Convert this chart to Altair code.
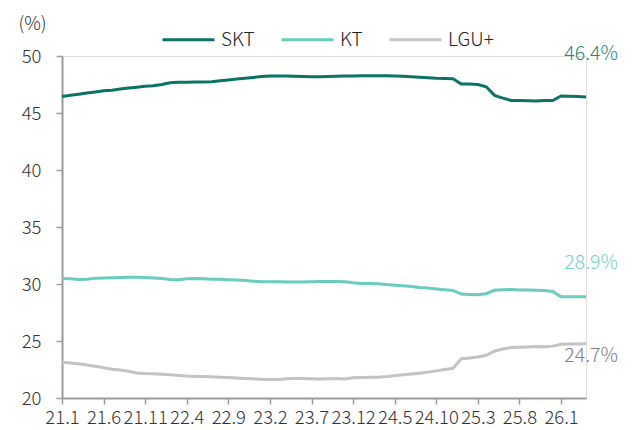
import altair as alt
import pandas as pd

# Month categories 21.1 .. 26.4
months = [f"{yy}.{mm}" for yy in range(21, 27) for mm in range(1, 13)][:64]
tick_labels = months[::5]

skt = [46.45, 46.55, 46.65, 46.75, 46.85, 46.95, 47.0, 47.1, 47.2, 47.25, 47.35, 47.4,
       47.5, 47.65, 47.7, 47.7, 47.72, 47.73, 47.75, 47.82, 47.9, 47.98, 48.05, 48.12,
       48.2, 48.25, 48.25, 48.24, 48.22, 48.2, 48.18, 48.17, 48.2, 48.22, 48.24, 48.25,
       48.27, 48.27, 48.27, 48.26, 48.25, 48.22, 48.18, 48.14, 48.1, 48.05, 48.02, 48.0,
       47.55, 47.55, 47.5, 47.3, 46.55, 46.3, 46.1, 46.1, 46.08, 46.05, 46.1, 46.1,
       46.5, 46.48, 46.45, 46.4]
kt = [30.48, 30.45, 30.4, 30.42, 30.5, 30.52, 30.55, 30.57, 30.6, 30.6, 30.58, 30.53,
      30.48, 30.4, 30.38, 30.45, 30.48, 30.45, 30.42, 30.42, 30.38, 30.35, 30.3, 30.25,
      30.2, 30.2, 30.2, 30.18, 30.18, 30.18, 30.2, 30.22, 30.22, 30.22, 30.2, 30.1,
      30.05, 30.05, 30.03, 29.95, 29.9, 29.85, 29.78, 29.7, 29.64, 29.57, 29.5, 29.44,
      29.12, 29.08, 29.05, 29.15, 29.45, 29.5, 29.52, 29.48, 29.47, 29.45, 29.42, 29.35,
      28.88, 28.88, 28.88, 28.88]
lgu = [23.13, 23.08, 23.0, 22.9, 22.78, 22.65, 22.53, 22.45, 22.35, 22.2, 22.15, 22.12,
       22.08, 22.03, 21.98, 21.92, 21.88, 21.88, 21.87, 21.83, 21.79, 21.75, 21.72, 21.68,
       21.64, 21.62, 21.63, 21.68, 21.7, 21.7, 21.68, 21.66, 21.68, 21.7, 21.67, 21.78,
       21.8, 21.82, 21.83, 21.88, 21.95, 22.03, 22.1, 22.18, 22.27, 22.38, 22.5, 22.6,
       23.45, 23.5, 23.6, 23.75, 24.1, 24.3, 24.42, 24.45, 24.48, 24.52, 24.5, 24.55,
       24.72, 24.73, 24.73, 24.75]

series_names = ["SKT", "KT", "LGU+"]
series_values = [skt, kt, lgu]
line_colors = ["#0b7366", "#68ccbe", "#c3c3c3"]
label_colors = ["#2a8378", "#74d0c3", "#808080"]
end_labels = ["46.4%", "28.9%", "24.7%"]
label_dy = [-43, -34, 12]

rows = []
for name, vals in zip(series_names, series_values):
    for m, v in zip(months, vals):
        rows.append({"month": m, "value": v, "series": name})
df = pd.DataFrame(rows)

FONT = "Noto Sans CJK KR"
FW = 300

x_enc = alt.X(
    "month:O", sort=months,
    scale=alt.Scale(type="point", padding=0),
    axis=alt.Axis(values=tick_labels, labelAngle=0, title=None,
                  domainColor="#9a9a9a", domainWidth=2, tickColor="#9a9a9a",
                  tickWidth=1.5, tickSize=6, labelFontSize=18.5, labelColor="#333333",
                  labelFontWeight=FW,
                  labelPadding=4, labelFont=FONT, grid=False, labelOverlap=False),
)
y_enc = alt.Y(
    "value:Q",
    scale=alt.Scale(domain=[20, 50], nice=False, zero=False),
    axis=alt.Axis(values=[20, 25, 30, 35, 40, 45, 50], title="(%)", titleAngle=0,
                  titleX=-30, titleY=-33, titleAlign="center", titleBaseline="middle",
                  titleFontSize=18.5, titleFontWeight=FW, titleColor="#333333",
                  titleFont=FONT,
                  domainColor="#9a9a9a", domainWidth=2, tickColor="#9a9a9a",
                  tickWidth=1.5, tickSize=6, labelFontSize=18.5, labelColor="#333333",
                  labelFontWeight=FW,
                  labelPadding=15, labelFont=FONT, grid=False),
)

lines = alt.Chart(df).mark_line(strokeWidth=3, interpolate="linear").encode(
    x=x_enc,
    y=y_enc,
    color=alt.Color(
        "series:N",
        scale=alt.Scale(domain=series_names, range=line_colors),
        sort=series_names,
        legend=alt.Legend(
            title=None, orient="none", direction="horizontal",
            legendX=99, legendY=-44,
            symbolType="stroke", symbolSize=2704, symbolStrokeWidth=3,
            labelFontSize=19, labelColor="#222222", labelFont=FONT,
            labelFontWeight=FW,
            labelOffset=5, columnPadding=20,
        ),
    ),
)

layers = [lines]
for name, vals, col, lab, dy in zip(series_names, series_values, label_colors, end_labels, label_dy):
    ldf = pd.DataFrame([{"month": months[-1], "value": vals[-1], "label": lab}])
    layers.append(
        alt.Chart(ldf).mark_text(
            align="right", baseline="middle", dx=32, dy=dy,
            fontSize=19.5, color=col, font=FONT, fontWeight=FW,
        ).encode(
            x=alt.X("month:O", sort=months),
            y=alt.Y("value:Q"),
            text="label:N",
        )
    )

chart = alt.layer(*layers).properties(
    width=524, height=342,
    autosize=alt.AutoSizeParams(type="none"),
    padding={"left": 54, "top": 48, "right": 41, "bottom": 32},
).configure_view(stroke=None).configure(font=FONT)

chart.save("out.html", embed_options={"renderer": "svg", "actions": False})
